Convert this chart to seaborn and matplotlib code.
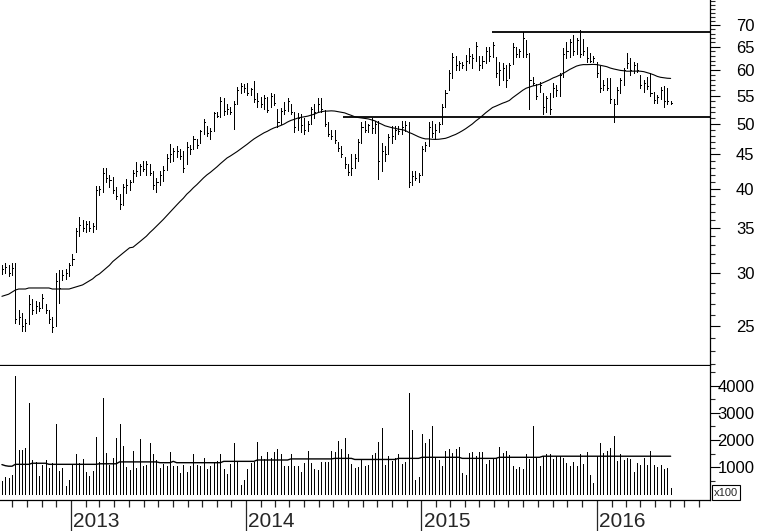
import numpy as np
import pandas as pd
import matplotlib
matplotlib.use('Agg')
import matplotlib.pyplot as plt
import matplotlib.dates as mdates
from matplotlib.ticker import FixedLocator, FixedFormatter, NullFormatter
import seaborn as sns

# weekly bars
highs = [30.8, 31.0, 30.8, 31.0, 31.0, 26.4, 26.2, 25.6, 27.8, 27.4,
         27.3, 27.2, 27.9, 27.0, 26.4, 25.8, 30.0, 30.3, 30.3, 30.4,
         31.0, 32.0, 35.0, 36.3, 36.0, 35.8, 35.8, 35.6, 40.4, 40.4,
         43.0, 43.0, 42.0, 41.7, 40.3, 39.3, 40.6, 41.4, 41.2, 42.6,
         43.8, 43.6, 44.0, 44.0, 43.6, 42.5, 41.5, 42.5, 43.2, 45.0,
         46.6, 46.0, 46.3, 45.8, 45.5, 47.0, 46.5, 47.9, 47.5, 49.0,
         50.8, 49.6, 49.2, 52.1, 52.0, 54.7, 54.5, 53.4, 53.0, 54.0,
         56.6, 57.4, 57.2, 57.4, 56.5, 57.8, 55.6, 54.8, 55.2, 54.8,
         55.6, 55.4, 52.5, 52.8, 53.9, 54.5, 53.5, 52.1, 51.8, 51.6,
         51.0, 50.5, 53.0, 53.4, 54.5, 54.5, 52.4, 50.2, 49.0, 49.0,
         47.0, 46.3, 44.6, 43.5, 45.0, 45.0, 47.4, 50.2, 50.5, 50.0,
         51.0, 50.5, 50.5, 46.8, 46.3, 48.3, 49.6, 49.6, 49.6, 50.5,
         50.5, 50.2, 42.5, 42.5, 42.2, 46.3, 47.0, 50.2, 50.5, 49.9,
         50.2, 53.4, 56.0, 60.0, 63.6, 63.0, 62.0, 61.7, 63.2, 64.7,
         63.5, 66.0, 63.0, 63.0, 64.9, 64.9, 66.0, 62.8, 61.8, 61.5,
         61.0, 61.5, 65.8, 64.9, 64.5, 68.3, 66.5, 63.6, 58.7, 57.2,
         57.7, 55.6, 55.0, 55.6, 57.4, 57.0, 59.5, 64.7, 66.0, 66.7,
         67.6, 67.0, 68.8, 66.7, 64.9, 63.6, 63.0, 61.7, 60.8, 58.0,
         58.4, 58.4, 54.3, 56.6, 58.4, 60.4, 63.6, 62.5, 61.8, 61.5,
         59.1, 58.0, 58.7, 59.5, 55.8, 55.2, 56.6, 56.8, 56.5, 54.0]
lows = [29.9, 30.0, 29.7, 29.8, 25.3, 25.2, 24.6, 24.6, 25.2, 26.1,
        26.2, 26.3, 26.6, 26.2, 25.3, 24.5, 25.0, 27.1, 29.3, 29.4,
        29.7, 30.8, 32.2, 34.0, 34.6, 34.5, 34.6, 34.5, 34.9, 39.2,
        39.6, 41.0, 40.3, 39.5, 38.7, 37.4, 37.8, 39.5, 39.8, 40.9,
        41.8, 42.0, 42.5, 42.0, 42.0, 40.0, 39.6, 40.5, 41.1, 42.6,
        43.8, 44.0, 44.6, 44.3, 42.4, 43.5, 45.0, 45.8, 46.0, 46.8,
        48.2, 48.0, 47.4, 48.8, 51.1, 51.2, 51.5, 51.6, 51.6, 49.1,
        53.5, 55.5, 55.8, 55.2, 55.2, 53.8, 53.0, 52.9, 52.5, 52.0,
        53.0, 53.2, 49.4, 50.0, 51.6, 52.2, 51.6, 48.6, 49.0, 48.6,
        48.3, 48.8, 50.0, 51.0, 52.0, 52.0, 49.6, 47.9, 47.5, 46.8,
        45.5, 44.6, 43.0, 42.0, 42.0, 43.0, 44.0, 46.8, 48.6, 48.6,
        48.4, 48.5, 41.4, 42.5, 44.0, 45.0, 46.8, 47.5, 48.3, 48.3,
        48.8, 40.3, 40.5, 41.2, 41.0, 42.0, 45.5, 46.3, 47.7, 47.4,
        48.6, 50.0, 53.0, 56.0, 58.4, 60.0, 60.0, 60.5, 60.0, 61.5,
        60.5, 62.0, 60.0, 60.5, 61.5, 62.0, 62.7, 58.7, 57.0, 58.0,
        56.6, 58.5, 61.4, 62.8, 62.8, 62.8, 62.8, 52.5, 57.0, 54.3,
        55.8, 51.6, 52.0, 51.6, 54.7, 55.0, 54.9, 58.7, 62.5, 62.8,
        63.2, 63.5, 62.8, 63.2, 61.7, 61.7, 61.7, 58.7, 55.8, 56.0,
        56.0, 53.7, 50.3, 53.4, 55.6, 57.0, 60.4, 59.1, 59.5, 59.6,
        56.5, 55.8, 56.2, 54.9, 53.7, 53.7, 54.3, 53.0, 53.5, 53.4]
closes = [30.4, 30.6, 30.0, 30.5, 25.6, 25.8, 25.0, 25.3, 27.0, 26.4,
          26.8, 26.6, 27.5, 26.4, 25.6, 24.9, 29.2, 28.5, 29.8, 30.0,
          30.8, 31.5, 34.6, 35.4, 35.0, 35.5, 35.0, 35.2, 39.8, 40.0,
          42.3, 41.5, 41.2, 39.8, 39.0, 38.0, 40.2, 40.5, 41.0, 42.2,
          42.5, 43.2, 42.8, 43.5, 42.3, 40.5, 41.0, 42.0, 42.6, 44.5,
          45.0, 45.5, 45.5, 44.8, 43.0, 46.2, 45.8, 47.5, 46.4, 48.7,
          50.2, 48.5, 48.8, 51.8, 51.4, 54.0, 52.2, 52.6, 52.0, 53.5,
          56.0, 56.8, 56.5, 55.6, 56.2, 54.3, 54.0, 53.5, 54.6, 52.4,
          55.0, 53.6, 50.3, 52.2, 52.4, 54.0, 52.0, 49.5, 51.0, 49.8,
          49.0, 50.0, 52.5, 52.0, 53.5, 52.5, 50.0, 48.3, 48.0, 47.2,
          46.0, 45.0, 43.5, 42.4, 43.0, 44.5, 47.0, 49.5, 49.0, 49.8,
          49.2, 50.0, 44.0, 45.5, 45.0, 47.8, 48.0, 49.0, 48.8, 49.4,
          49.8, 41.0, 41.8, 41.5, 42.0, 45.8, 46.5, 49.5, 48.4, 49.0,
          50.0, 53.0, 55.6, 59.5, 62.8, 61.0, 61.5, 61.0, 62.0, 63.0,
          62.6, 65.2, 61.0, 62.0, 64.0, 63.0, 65.5, 59.5, 60.0, 60.5,
          58.0, 61.0, 65.0, 63.5, 64.0, 67.0, 63.5, 58.0, 57.5, 55.0,
          57.0, 53.0, 54.5, 52.5, 56.5, 56.0, 59.0, 63.5, 64.0, 66.0,
          64.0, 66.5, 63.5, 64.0, 62.5, 62.0, 62.5, 59.5, 56.5, 57.0,
          56.5, 54.3, 53.5, 56.0, 58.0, 60.0, 61.5, 60.0, 61.0, 60.0,
          57.0, 57.5, 56.8, 55.5, 54.2, 54.8, 56.0, 54.0, 54.0, 53.6]
volumes = [470, 620, 590, 700, 4360, 1630, 1630, 1700, 3370, 1270,
           1170, 680, 1090, 1260, 960, 1140, 2590, 860, 960, 310,
           520, 1120, 1480, 1140, 1300, 830, 680, 860, 2110, 1200,
           3560, 1520, 1070, 1330, 2090, 2590, 1770, 1010, 890, 1590,
           960, 2040, 1050, 1070, 1890, 1480, 1260, 960, 1110, 1050,
           1570, 1020, 1050, 780, 1070, 830, 1050, 1480, 1070, 1050,
           1330, 930, 1050, 1200, 1230, 1480, 930, 740, 1110, 1890,
           1200, 330, 520, 930, 1140, 1200, 1940, 1400, 1300, 1540,
           1350, 1540, 1670, 1490, 1020, 1050, 1480, 1050, 1050, 800,
           1140, 1600, 1150, 930, 890, 1170, 1170, 1170, 1590, 1540,
           1960, 1670, 2070, 1480, 1110, 960, 1010, 1270, 1040, 1060,
           1440, 1520, 1940, 2440, 1060, 1400, 1220, 1330, 1480, 1110,
           1170, 3740, 2370, 520, 640, 2220, 1890, 2040, 2510, 1360,
           1270, 1040, 1580, 1670, 1520, 1670, 1750, 770, 700, 1530,
           1570, 1400, 1570, 1570, 1110, 1260, 1300, 1320, 1740, 1530,
           1590, 1440, 1040, 930, 1010, 930, 1480, 1300, 2510, 1320,
           1050, 1420, 1470, 1480, 1300, 1400, 1400, 1320, 1140, 1040,
           1170, 1020, 1480, 1110, 1570, 700, 400, 1400, 1890, 1520,
           1600, 1700, 2160, 1210, 1480, 1260, 1330, 1300, 830, 1150,
           1070, 1330, 1070, 1590, 1070, 1010, 1070, 930, 980, 220]
# 40-week average of the close before there are 40 weeks of data here
ma_head = [27.7, 27.8, 27.9, 28.1, 28.3, 28.4, 28.4, 28.4, 28.5, 28.5,
           28.5, 28.5, 28.5, 28.5, 28.5, 28.4, 28.4, 28.4, 28.4, 28.4,
           28.4, 28.5, 28.6, 28.7, 28.8, 29.0, 29.2, 29.4, 29.7, 29.9,
           30.2, 30.5, 30.8, 31.2, 31.5, 31.8, 32.1, 32.4, 32.7]
vol_ma = [1090, 1050, 1030, 1030, 1100, 1100, 1100, 1100, 1100, 1140,
          1140, 1140, 1140, 1140, 1100, 1100, 1100, 1100, 1100, 1100,
          1100, 1100, 1100, 1100, 1100, 1100, 1100, 1100, 1100, 1120,
          1120, 1120, 1120, 1120, 1120, 1190, 1190, 1190, 1190, 1190,
          1190, 1190, 1190, 1190, 1190, 1190, 1190, 1160, 1160, 1160,
          1160, 1210, 1160, 1160, 1160, 1160, 1160, 1160, 1160, 1160,
          1160, 1160, 1160, 1160, 1160, 1160, 1210, 1210, 1210, 1210,
          1210, 1210, 1210, 1210, 1210, 1210, 1260, 1260, 1260, 1260,
          1260, 1260, 1260, 1260, 1260, 1260, 1300, 1300, 1300, 1300,
          1300, 1300, 1300, 1300, 1300, 1300, 1300, 1300, 1300, 1320,
          1320, 1320, 1320, 1320, 1320, 1280, 1280, 1280, 1280, 1280,
          1280, 1280, 1280, 1280, 1280, 1280, 1280, 1280, 1320, 1320,
          1320, 1320, 1320, 1320, 1320, 1360, 1360, 1360, 1360, 1360,
          1360, 1360, 1360, 1360, 1360, 1360, 1360, 1320, 1320, 1320,
          1320, 1320, 1320, 1320, 1320, 1320, 1320, 1320, 1360, 1360,
          1360, 1360, 1360, 1360, 1360, 1360, 1360, 1360, 1360, 1360,
          1360, 1400, 1400, 1400, 1400, 1400, 1400, 1400, 1400, 1400,
          1400, 1400, 1400, 1400, 1400, 1400, 1400, 1400, 1400, 1400,
          1400, 1400, 1400, 1400, 1400, 1400, 1400, 1400, 1400, 1400,
          1400, 1400, 1400, 1400, 1400, 1400, 1400, 1400, 1400, 1400]
years = [2013, 2014, 2015, 2016]
price_ticks = [25, 30, 35, 40, 45, 50, 55, 60, 65, 70]
vol_ticks = [1000, 2000, 3000, 4000]
upper_level = 68.3
lower_level = 51.1
upper_start = '2015-05-28'
lower_start = '2014-07-21'

dates = pd.date_range('2012-08-10', periods=len(closes), freq='W-FRI')
xd = mdates.date2num(dates)
df = pd.DataFrame({'x': xd, 'high': highs, 'low': lows, 'close': closes,
                   'volume': volumes, 'vol_ma': vol_ma})
ma = df['close'].rolling(40).mean()
ma.iloc[:len(ma_head)] = ma_head
df['ma'] = ma

sns.set_style('white')
plt.rcParams['font.family'] = ['Liberation Sans Narrow', 'Liberation Sans', 'DejaVu Sans']

fig = plt.figure(figsize=(7.6, 5.31), dpi=100)
ax = fig.add_axes([0, 0.3126, 0.9342, 0.6874])
axv = fig.add_axes([0, 0.0584, 0.9342, 0.2524], sharex=ax)

bar_lw = 0.6

# price bars
ax.vlines(df['x'], df['low'], df['high'], colors='black', linewidth=bar_lw, antialiased=False)
ax.hlines(df['close'], df['x'], df['x'] + 2.2, colors='black', linewidth=bar_lw, antialiased=False)
sns.lineplot(data=df, x='x', y='ma', ax=ax, color='black', linewidth=0.8)
xmin = mdates.date2num(pd.Timestamp('2012-08-06'))
xmax = mdates.date2num(pd.Timestamp('2016-08-24'))
ax.hlines(upper_level, mdates.date2num(pd.Timestamp(upper_start)), xmax, colors='black', linewidth=1.3)
ax.hlines(lower_level, mdates.date2num(pd.Timestamp(lower_start)), xmax, colors='black', linewidth=1.3)

# volume
axv.vlines(df['x'], 0, df['volume'], colors='black', linewidth=bar_lw, antialiased=False)
sns.lineplot(data=df, x='x', y='vol_ma', ax=axv, color='black', linewidth=1.0)

ax.set_xlim(xmin, xmax)
ax.set_yscale('log')
ax.set_ylim(21.9, 76.3)
axv.set_ylim(-220, 4740)

for a in (ax, axv):
    a.set_xlabel('')
    a.set_ylabel('')
    a.spines['left'].set_visible(False)
    a.spines['top'].set_visible(False)
    a.spines['right'].set_visible(True)
    a.spines['bottom'].set_visible(True)
    for s in ('right', 'bottom'):
        a.spines[s].set_color('black')
        a.spines[s].set_linewidth(0.9)
    a.yaxis.tick_right()

ax.yaxis.set_major_locator(FixedLocator(price_ticks))
ax.yaxis.set_major_formatter(FixedFormatter([str(t) for t in price_ticks]))
ax.yaxis.set_minor_locator(FixedLocator(list(range(22, 77))))
ax.yaxis.set_minor_formatter(NullFormatter())
ax.tick_params(axis='y', which='major', right=True, direction='out', length=7, width=0.8,
               labelsize=12, pad=25, colors='black')
ax.tick_params(axis='y', which='minor', right=True, direction='out', length=3.5, width=0.8)
ax.tick_params(axis='x', which='both', bottom=False, labelbottom=False)

axv.yaxis.set_major_locator(FixedLocator(vol_ticks))
axv.yaxis.set_major_formatter(FixedFormatter([str(t) for t in vol_ticks]))
axv.yaxis.set_minor_locator(FixedLocator([500, 1500, 2500, 3500, 4500]))
axv.yaxis.set_minor_formatter(NullFormatter())
axv.tick_params(axis='y', which='major', right=True, direction='out', length=7, width=0.8,
                labelsize=12, pad=25, colors='black')
axv.tick_params(axis='y', which='minor', right=True, direction='out', length=3.5, width=0.8)

axv.xaxis.set_major_locator(mdates.YearLocator())
axv.xaxis.set_minor_locator(mdates.MonthLocator())
axv.xaxis.set_major_formatter(NullFormatter())
axv.xaxis.set_minor_formatter(NullFormatter())
axv.tick_params(axis='x', which='major', bottom=True, direction='out', length=23, width=0.9)
axv.tick_params(axis='x', which='minor', bottom=True, direction='out', length=5, width=0.9)

for a in (ax, axv):
    for lbl in a.get_yticklabels():
        lbl.set_horizontalalignment('right')

for y in years:
    axv.annotate(str(y), xy=(mdates.date2num(pd.Timestamp(f'{y}-01-01')), 0),
                 xycoords=('data', 'axes fraction'), xytext=(1.5, -19.5),
                 textcoords='offset points', ha='left', va='baseline',
                 fontsize=15, annotation_clip=False)

fig.text(714 / 760, (531 - 492.5) / 531, 'x100', fontsize=8, ha='left', va='center',
         bbox=dict(boxstyle='square,pad=0.2', fc='white', ec='black', lw=0.8))

fig.savefig('out.png', dpi=100, facecolor='white')
